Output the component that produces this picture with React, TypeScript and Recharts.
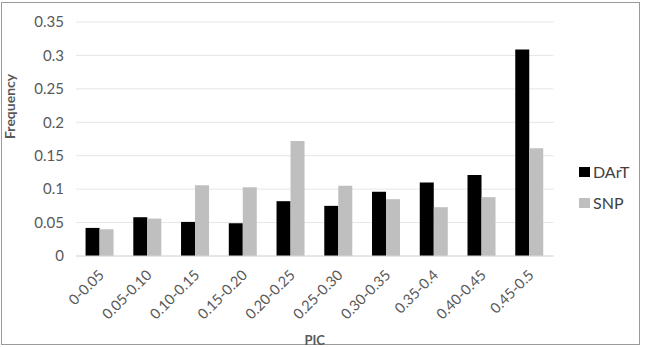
import { BarChart, Bar, XAxis, YAxis, CartesianGrid, Legend } from "recharts"

const categories = ["0-0.05", "0.05-0.10", "0.10-0.15", "0.15-0.20", "0.20-0.25", "0.25-0.30", "0.30-0.35", "0.35-0.4", "0.40-0.45", "0.45-0.5"]
const dartValues = [0.042, 0.058, 0.051, 0.049, 0.082, 0.075, 0.096, 0.11, 0.121, 0.309]
const snpValues = [0.04, 0.056, 0.106, 0.103, 0.172, 0.105, 0.085, 0.073, 0.088, 0.161]
const yTicks = [0, 0.05, 0.1, 0.15, 0.2, 0.25, 0.3, 0.35]

const data = categories.map((name, i) => ({
  name,
  DArT: dartValues[i],
  SNP: snpValues[i],
}))

const font = "Lato, 'Open Sans', sans-serif"

function RotatedTick(props: any) {
  const { x, y, payload } = props
  return (
    <text
      x={x + 5}
      y={y + 12}
      transform={`rotate(-45, ${x + 5}, ${y + 12})`}
      textAnchor="end"
      fill="#595959"
      fontSize={14.5}
      fontFamily={font}
    >
      {payload.value}
    </text>
  )
}

function LegendBox(props: any) {
  const { payload } = props
  return (
    <div style={{ fontFamily: font, fontSize: 16, color: "#404040" }}>
      {payload.map((item: any) => (
        <div key={item.value} style={{ display: "flex", alignItems: "center", height: 31 }}>
          <span style={{ display: "inline-block", width: 11, height: 10, background: item.color, marginRight: 3 }} />
          <span>{item.value}</span>
        </div>
      ))}
    </div>
  )
}

export default function App() {
  return (
    <div style={{ position: "absolute", left: 0, top: 0, width: 645, height: 347, background: "#fff" }}>
      <div
        style={{
          position: "absolute",
          left: 1,
          top: 2,
          width: 639,
          height: 343,
          border: "1px solid #9a9a9a",
          boxSizing: "border-box",
        }}
      />
      <BarChart
        width={645}
        height={347}
        data={data}
        margin={{ top: 22, right: 41, left: 0, bottom: 0 }}
        barCategoryGap="20%"
        barGap={0}
      >
        <CartesianGrid vertical={false} stroke="#e6e6e6" />
        <XAxis
          dataKey="name"
          tick={<RotatedTick />}
          tickLine={false}
          axisLine={{ stroke: "#d9d9d9" }}
          interval={0}
          height={91}
          label={{ value: "PIC", position: "insideBottom", offset: 2, fill: "#595959", fontSize: 13, fontWeight: "bold", fontFamily: font }}
        />
        <YAxis
          domain={[0, 0.35]}
          ticks={yTicks}
          width={76}
          tickLine={false}
          axisLine={false}
          tick={{ fill: "#595959", fontSize: 15, fontFamily: font }}
          tickMargin={6}
          label={{ value: "Frequency", angle: -90, position: "insideLeft", offset: 10, fill: "#595959", fontSize: 14, fontWeight: "bold", fontFamily: font }}
        />
        <Legend
          layout="vertical"
          align="right"
          verticalAlign="middle"
          content={<LegendBox />}
          wrapperStyle={{ left: 579, right: "auto", top: 156 }}
        />
        <Bar dataKey="DArT" fill="#000000" isAnimationActive={false} />
        <Bar dataKey="SNP" fill="#bfbfbf" isAnimationActive={false} />
      </BarChart>
    </div>
  )
}
